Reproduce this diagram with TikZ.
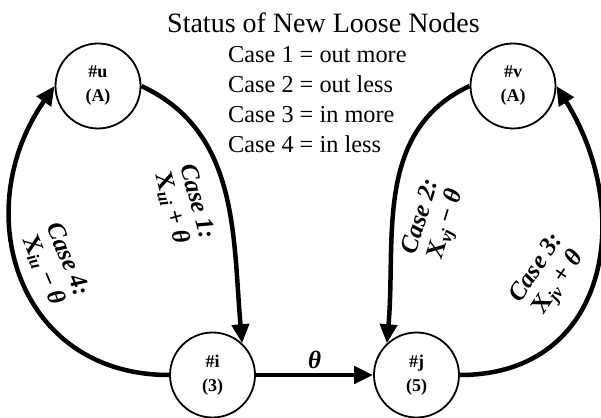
\documentclass[tikz,border=0pt]{standalone}
\usepackage{fontspec}
\setmainfont{Liberation Serif}
\usetikzlibrary{arrows.meta}

\newcommand{\flowlabel}[3]{\textit{Case #1:}\\X\textsubscript{\textit{#2}} #3 \textit{θ}}

\begin{document}
\begin{tikzpicture}[x=1pt,y=1pt,
        state/.style={circle,draw,line width=1.8pt,minimum size=85pt,inner sep=0pt,align=center,font=\fontsize{18}{24}\selectfont\bfseries},
        flow/.style={line width=4.5pt,-{Triangle[length=19pt,width=17pt]}},
        flowtext/.style={align=center,inner sep=0pt,font=\fontsize{25}{26}\selectfont\bfseries}]
    \useasboundingbox (0,0) rectangle (601,417);
    % legend
    \node (title) at (323.5,394) {\fontsize{28}{30}\selectfont Status of New Loose Nodes};
    \node[anchor=west,align=left,inner sep=0pt,font=\fontsize{24.3}{30}\selectfont] (cases) at (228,317)
        {Case 1 = out more\\Case 2 = out less\\Case 3 = in more\\Case 4 = in less};
    % nodes
    \node[state] (u) at (98,331) {\#u\\(A)};
    \node[state] (v) at (513,331) {\#v\\(A)};
    \node[state] (i) at (212.5,42) {\#i\\(3)};
    \node[state] (j) at (416.5,42) {\#j\\(5)};
    % flows
    \draw[flow] (i) -- (j) node[midway,above=1pt,font=\fontsize{25}{25}\selectfont\bfseries\itshape] (theta) {θ};
    \draw[flow] (u.0) to[out=-25,in=95] (i.47);
    \draw[flow] (i.180) to[out=180,in=-125,looseness=1.25] (u.180);
    \draw[flow] (v.180) to[out=205,in=85] (j.133);
    \draw[flow] (j.0) to[out=0,in=-58,looseness=1.25] (v.0);
    \node[flowtext,rotate=-75] (case1) at (184,212) {\flowlabel{1}{ui}{+}};
    \node[flowtext,rotate=-67] (case4) at (55,152) {\flowlabel{4}{iu}{−}};
    \node[flowtext,rotate=73] (case2) at (435,196) {\flowlabel{2}{vj}{−}};
    \node[flowtext,rotate=56] (case3) at (549,141) {\flowlabel{3}{jv}{+}};
\end{tikzpicture}
\end{document}
